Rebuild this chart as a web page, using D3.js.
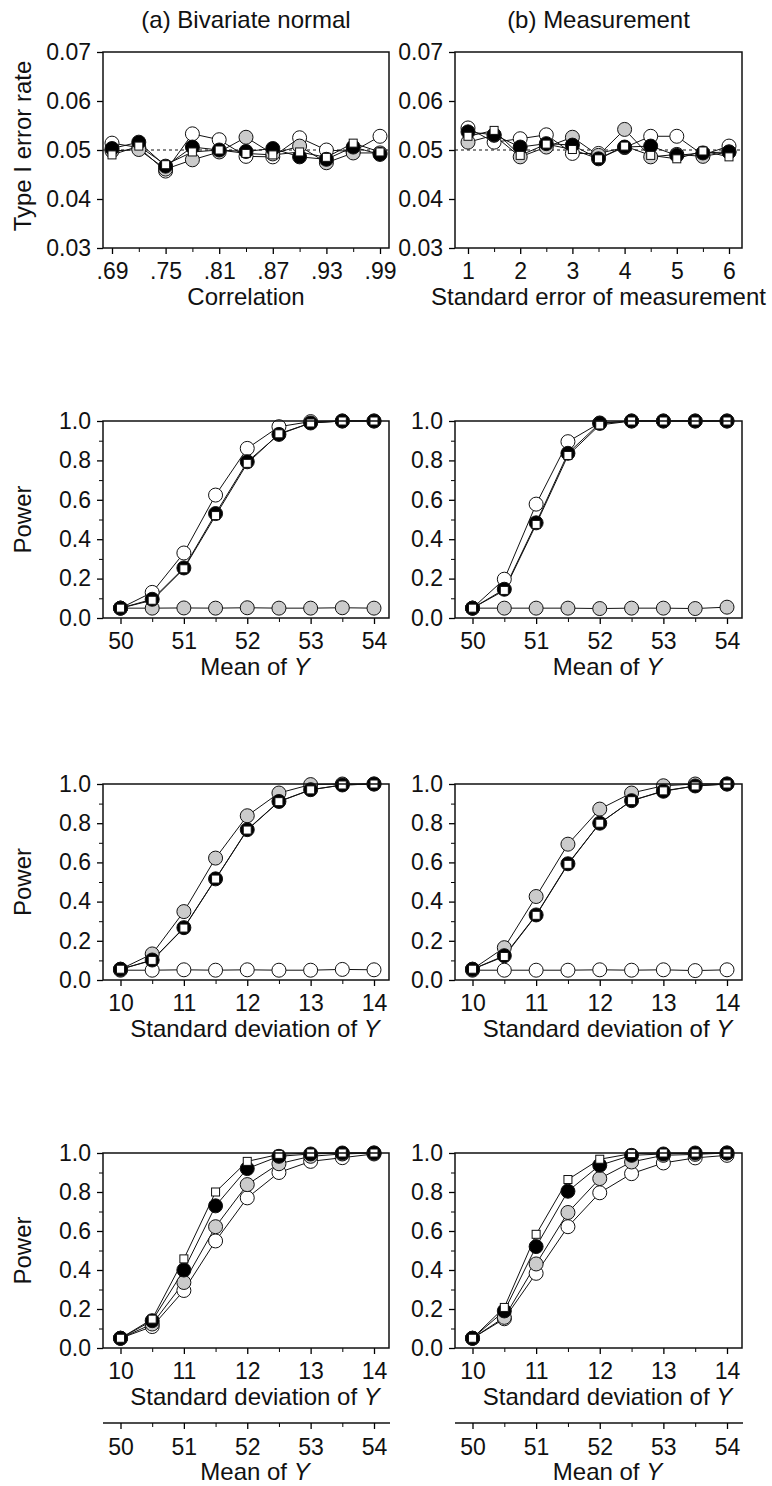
<!DOCTYPE html>
<html>
<head>
<meta charset="utf-8">
<script src="https://cdn.jsdelivr.net/npm/d3@7"></script>
<style>
  body { margin: 0; background: #fff; }
  svg text { font-family: "Liberation Sans", Arial, sans-serif; fill: #111; }
</style>
</head>
<body>
<script>
// x values
var corr = [.69, .72, .75, .78, .81, .84, .87, .90, .93, .96, .99];
var sem = [1, 1.5, 2, 2.5, 3, 3.5, 4, 4.5, 5, 5.5, 6];
var meanY = [50, 50.5, 51, 51.5, 52, 52.5, 53, 53.5, 54];
var sdY = [10, 10.5, 11, 11.5, 12, 12.5, 13, 13.5, 14];

// tick labels
var corrTicks = [.69, .75, .81, .87, .93, .99];
var semTicks = [1, 2, 3, 4, 5, 6];
var meanTicks = [50, 51, 52, 53, 54];
var sdTicks = [10, 11, 12, 13, 14];
var typeITicks = [0.03, 0.04, 0.05, 0.06, 0.07];
var powerTicks = [0, 0.2, 0.4, 0.6, 0.8, 1.0];

// type I error rate, (a) bivariate normal
var t1aOpen   = [0.0514, 0.0505, 0.0457, 0.0533, 0.0521, 0.0487, 0.0486, 0.0525, 0.0500, 0.0497, 0.0528];
var t1aGray   = [0.0498, 0.0501, 0.0461, 0.0480, 0.0496, 0.0526, 0.0492, 0.0508, 0.0474, 0.0494, 0.0494];
var t1aBlack  = [0.0503, 0.0516, 0.0467, 0.0506, 0.0500, 0.0497, 0.0503, 0.0486, 0.0481, 0.0506, 0.0491];
var t1aSquare = [0.0490, 0.0508, 0.0470, 0.0496, 0.0500, 0.0493, 0.0490, 0.0496, 0.0485, 0.0514, 0.0496];

// type I error rate, (b) measurement
var t1bOpen   = [0.0545, 0.0516, 0.0523, 0.0531, 0.0493, 0.0493, 0.0505, 0.0528, 0.0528, 0.0490, 0.0508];
var t1bGray   = [0.0516, 0.0530, 0.0486, 0.0506, 0.0526, 0.0489, 0.0542, 0.0486, 0.0491, 0.0487, 0.0496];
var t1bBlack  = [0.0537, 0.0531, 0.0506, 0.0513, 0.0510, 0.0482, 0.0506, 0.0508, 0.0489, 0.0494, 0.0496];
var t1bSquare = [0.0528, 0.0540, 0.0489, 0.0512, 0.0501, 0.0482, 0.0508, 0.0489, 0.0482, 0.0498, 0.0486];

// power vs mean of Y
var p2aOpen   = [0.05, 0.13, 0.33, 0.624, 0.861, 0.971, 0.997, 1, 1];
var p2aGray   = [0.05, 0.05, 0.051, 0.05, 0.052, 0.05, 0.05, 0.052, 0.05];
var p2aBlack  = [0.05, 0.095, 0.254, 0.53, 0.793, 0.932, 0.99, 1, 1];
var p2aSquare = [0.05, 0.09, 0.25, 0.52, 0.785, 0.935, 0.99, 1, 1];

var p2bOpen   = [0.05, 0.197, 0.578, 0.895, 0.99, 1, 1, 1, 1];
var p2bGray   = [0.05, 0.05, 0.05, 0.05, 0.048, 0.05, 0.05, 0.048, 0.055];
var p2bBlack  = [0.05, 0.146, 0.483, 0.836, 0.988, 1, 1, 1, 1];
var p2bSquare = [0.05, 0.14, 0.475, 0.825, 0.98, 1, 1, 1, 1];

// power vs standard deviation of Y
var p3aOpen   = [0.05, 0.05, 0.052, 0.05, 0.052, 0.05, 0.05, 0.054, 0.052];
var p3aGray   = [0.055, 0.133, 0.349, 0.622, 0.838, 0.954, 0.997, 1, 1];
var p3aBlack  = [0.055, 0.102, 0.267, 0.516, 0.767, 0.911, 0.971, 0.995, 1];
var p3aSquare = [0.055, 0.10, 0.265, 0.515, 0.765, 0.91, 0.97, 0.995, 1];

var p3bOpen   = [0.05, 0.05, 0.05, 0.05, 0.052, 0.05, 0.052, 0.048, 0.052];
var p3bGray   = [0.055, 0.165, 0.426, 0.693, 0.872, 0.954, 0.991, 1, 1];
var p3bBlack  = [0.055, 0.124, 0.332, 0.593, 0.80, 0.915, 0.963, 0.99, 1];
var p3bSquare = [0.055, 0.12, 0.33, 0.59, 0.80, 0.915, 0.965, 0.99, 1];

// power vs both sd and mean
var p4aOpen   = [0.05, 0.11, 0.295, 0.549, 0.77, 0.90, 0.957, 0.976, 0.995];
var p4aGray   = [0.05, 0.123, 0.336, 0.622, 0.838, 0.945, 0.983, 0.995, 1];
var p4aBlack  = [0.05, 0.14, 0.40, 0.729, 0.92, 0.983, 0.995, 1, 1];
var p4aSquare = [0.05, 0.148, 0.457, 0.80, 0.957, 0.993, 1, 1, 1];

var p4bOpen   = [0.05, 0.15, 0.383, 0.622, 0.796, 0.894, 0.949, 0.975, 0.988];
var p4bGray   = [0.05, 0.157, 0.431, 0.695, 0.869, 0.954, 0.988, 0.993, 1];
var p4bBlack  = [0.05, 0.19, 0.52, 0.804, 0.937, 0.988, 0.995, 1, 1];
var p4bSquare = [0.05, 0.208, 0.583, 0.864, 0.968, 0.997, 1, 1, 1];

var W = 772, H = 1486;
var svg = d3.select("body").append("svg")
    .attr("width", W).attr("height", H)
    .attr("viewBox", `0 0 ${W} ${H}`);

var colLeft = [103, 455], colRight = [389, 742];
var rowTop = [52, 421, 784, 1153], rowBot = [248, 618, 980, 1348];
var TICK_FS = 23, LABEL_FS = 24;

function halfSteps(arr){
    var out = [];
    for (var i = 0; i < arr.length - 1; i++) out.push((arr[i] + arr[i+1]) / 2);
    return out;
}

function xAxisAt(g, x, major, fmt, y){
    g.append("g").attr("transform", `translate(0,${y})`)
        .call(d3.axisBottom(x).tickValues(halfSteps(major)).tickSize(4).tickFormat(""))
        .call(s => s.select(".domain").remove());
    var ax = g.append("g").attr("transform", `translate(0,${y})`)
        .call(d3.axisBottom(x).tickValues(major).tickSize(6).tickPadding(0).tickFormat(fmt));
    ax.select(".domain").remove();
    ax.selectAll("text").attr("y", 31).attr("dy", 0)
        .style("font-size", TICK_FS + "px");
    ax.selectAll("line").attr("stroke-width", 1.3);
    return ax;
}

function panel(cfg){
    var l = colLeft[cfg.col], r = colRight[cfg.col];
    var t = rowTop[cfg.row], b = rowBot[cfg.row];
    var g = svg.append("g");

    var x = d3.scaleLinear().domain(d3.extent(cfg.xs)).range([l + cfg.padL, r - cfg.padR]);
    var y = d3.scaleLinear().domain(cfg.yDomain).range([b, t]);

    // y axis
    if (cfg.yMinor) {
        g.append("g").attr("transform", `translate(${l},0)`)
            .call(d3.axisLeft(y).tickValues(halfSteps(cfg.yTicks)).tickSize(4).tickFormat(""))
            .call(s => s.select(".domain").remove());
    }
    var ya = g.append("g").attr("transform", `translate(${l},0)`)
        .call(d3.axisLeft(y).tickValues(cfg.yTicks).tickSize(6).tickPadding(6).tickFormat(cfg.yFmt));
    ya.select(".domain").remove();
    ya.selectAll("text").style("font-size", TICK_FS + "px");
    ya.selectAll("line").attr("stroke-width", 1.3);

    xAxisAt(g, x, cfg.xTicks, cfg.xFmt, b);

    // labels ending in an italic Y sit a little right of centre
    var shift = cfg.xItal ? 9 : 0;
    if (cfg.xLabel) {
        var lab = g.append("text")
            .attr("x", (l + r) / 2 + shift).attr("y", b + 57)
            .attr("text-anchor", "middle")
            .style("font-size", LABEL_FS + "px");
        lab.append("tspan").text(cfg.xLabel);
        if (cfg.xItal) lab.append("tspan").style("font-style", "italic").text(cfg.xItal);
    }

    // second axis under the last row
    if (cfg.x2) {
        var y2 = b + 75;
        g.append("line").attr("x1", l).attr("x2", r + 1).attr("y1", y2).attr("y2", y2)
            .attr("stroke", "#111").attr("stroke-width", 1.5);
        var x2 = d3.scaleLinear().domain(d3.extent(cfg.x2.xs)).range([l + cfg.padL, r - cfg.padR]);
        var ax2 = xAxisAt(g, x2, cfg.x2.ticks, d3.format("d"), y2);
        ax2.selectAll("text").attr("y", 32);
        var lab2 = g.append("text")
            .attr("x", (l + r) / 2 + 9).attr("y", y2 + 57)
            .attr("text-anchor", "middle")
            .style("font-size", LABEL_FS + "px");
        lab2.append("tspan").text("Mean of ");
        lab2.append("tspan").style("font-style", "italic").text("Y");
    }

    if (cfg.yLabel) {
        var yc = cfg.row == 0 ? (t + b) / 2 - 4 : (t + b) / 2;
        g.append("text")
            .attr("transform", `translate(31,${yc}) rotate(-90)`)
            .attr("text-anchor", "middle")
            .style("font-size", LABEL_FS + "px")
            .text(cfg.yLabel);
    }

    if (cfg.title) {
        g.append("text").attr("x", (l + r) / 2).attr("y", 28)
            .attr("text-anchor", "middle")
            .style("font-size", LABEL_FS + "px")
            .text(cfg.title);
    }

    if (cfg.ref != null) {
        g.append("line").attr("x1", l).attr("x2", r)
            .attr("y1", y(cfg.ref)).attr("y2", y(cfg.ref))
            .attr("stroke", "#111").attr("stroke-width", 1)
            .attr("stroke-dasharray", "3,3");
    }

    var line = d3.line().x((d, i) => x(cfg.xs[i])).y(d => y(d));
    var series = [
        {vals: cfg.open, fill: "#fff", shape: "circle"},
        {vals: cfg.gray, fill: "#cbcbcb", shape: "circle"},
        {vals: cfg.black, fill: "#000", shape: "circle"},
        {vals: cfg.square, fill: "#fff", shape: "square"}
    ];
    series.forEach(function(s){
        g.append("path").attr("d", line(s.vals))
            .attr("fill", "none").attr("stroke", "#111").attr("stroke-width", 1);
    });
    series.forEach(function(s){
        var pts = g.append("g").selectAll("x").data(s.vals).enter();
        if (s.shape == "circle") {
            pts.append("circle")
                .attr("cx", (d, i) => x(cfg.xs[i])).attr("cy", d => y(d))
                .attr("r", 7).attr("fill", s.fill)
                .attr("stroke", "#111").attr("stroke-width", 1);
        } else {
            pts.append("rect")
                .attr("x", (d, i) => x(cfg.xs[i]) - 4).attr("y", d => y(d) - 4)
                .attr("width", 8).attr("height", 8).attr("fill", s.fill)
                .attr("stroke", "#111").attr("stroke-width", 1);
        }
    });

    // frame
    g.append("rect").attr("x", l).attr("y", t).attr("width", r - l).attr("height", b - t)
        .attr("fill", "none").attr("stroke", "#111").attr("stroke-width", 1.5);
}

var fmtCorr = d => d3.format(".2f")(d).replace(/^0/, "");
var fmtT1 = d3.format(".2f"), fmtPow = d3.format(".1f"), fmtInt = d3.format("d");

var typeI = {yDomain: [0.03, 0.07], yTicks: typeITicks, yFmt: fmtT1, yMinor: false, ref: 0.05};
var power = {yDomain: [0, 1], yTicks: powerTicks, yFmt: fmtPow, yMinor: true, padL: 17.5, padR: 15};

panel(Object.assign({}, typeI, {row: 0, col: 0, xs: corr, xTicks: corrTicks, xFmt: fmtCorr,
    padL: 9, padR: 9, title: "(a) Bivariate normal", yLabel: "Type I error rate", xLabel: "Correlation",
    open: t1aOpen, gray: t1aGray, black: t1aBlack, square: t1aSquare}));
panel(Object.assign({}, typeI, {row: 0, col: 1, xs: sem, xTicks: semTicks, xFmt: fmtInt,
    padL: 13, padR: 13, title: "(b) Measurement", xLabel: "Standard error of measurement",
    open: t1bOpen, gray: t1bGray, black: t1bBlack, square: t1bSquare}));

panel(Object.assign({}, power, {row: 1, col: 0, xs: meanY, xTicks: meanTicks, xFmt: fmtInt,
    yLabel: "Power", xLabel: "Mean of ", xItal: "Y",
    open: p2aOpen, gray: p2aGray, black: p2aBlack, square: p2aSquare}));
panel(Object.assign({}, power, {row: 1, col: 1, xs: meanY, xTicks: meanTicks, xFmt: fmtInt,
    xLabel: "Mean of ", xItal: "Y",
    open: p2bOpen, gray: p2bGray, black: p2bBlack, square: p2bSquare}));

panel(Object.assign({}, power, {row: 2, col: 0, xs: sdY, xTicks: sdTicks, xFmt: fmtInt,
    yLabel: "Power", xLabel: "Standard deviation of ", xItal: "Y",
    open: p3aOpen, gray: p3aGray, black: p3aBlack, square: p3aSquare}));
panel(Object.assign({}, power, {row: 2, col: 1, xs: sdY, xTicks: sdTicks, xFmt: fmtInt,
    xLabel: "Standard deviation of ", xItal: "Y",
    open: p3bOpen, gray: p3bGray, black: p3bBlack, square: p3bSquare}));

panel(Object.assign({}, power, {row: 3, col: 0, xs: sdY, xTicks: sdTicks, xFmt: fmtInt,
    yLabel: "Power", xLabel: "Standard deviation of ", xItal: "Y", x2: {xs: meanY, ticks: meanTicks},
    open: p4aOpen, gray: p4aGray, black: p4aBlack, square: p4aSquare}));
panel(Object.assign({}, power, {row: 3, col: 1, xs: sdY, xTicks: sdTicks, xFmt: fmtInt,
    xLabel: "Standard deviation of ", xItal: "Y", x2: {xs: meanY, ticks: meanTicks},
    open: p4bOpen, gray: p4bGray, black: p4bBlack, square: p4bSquare}));
</script>
</body>
</html>
